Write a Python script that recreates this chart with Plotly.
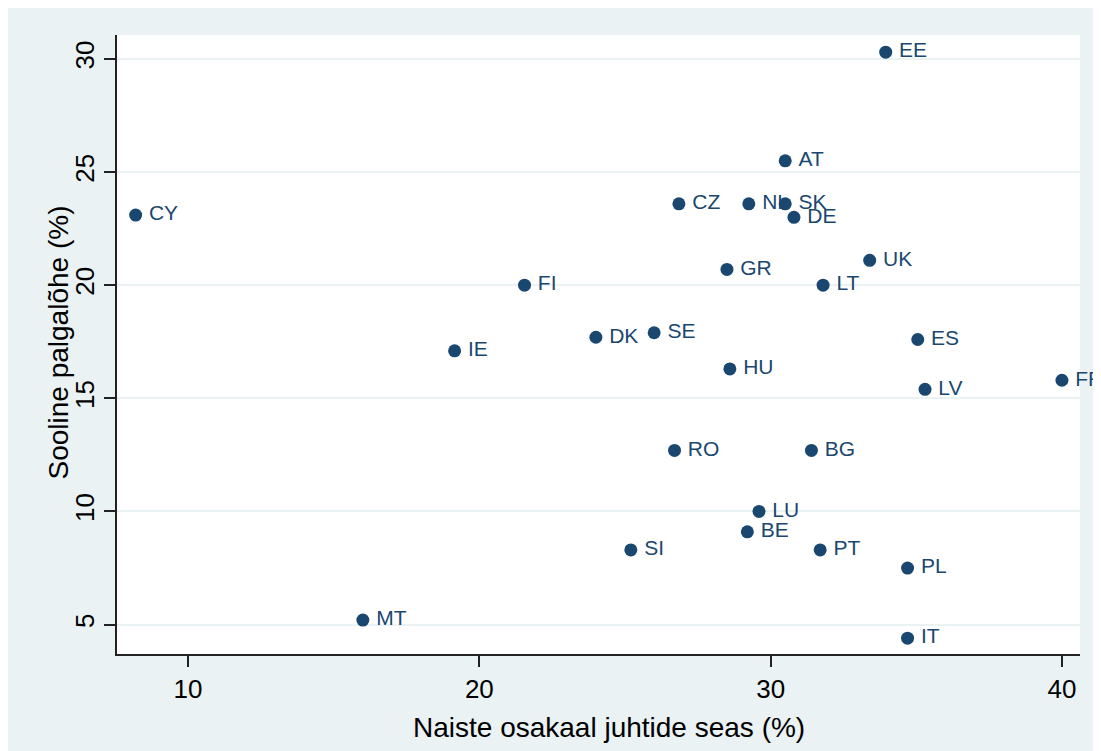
import plotly.graph_objects as go

countries = ["EE", "AT", "CZ", "NL", "SK", "DE", "CY", "UK", "GR", "FI", "LT", "DK", "SE",
             "IE", "ES", "HU", "FR", "LV", "RO", "BG", "LU", "BE", "SI", "PT", "PL", "MT", "IT"]
women_managers = [33.95, 30.5, 26.85, 29.25, 30.5, 30.8, 8.2, 33.4, 28.5, 21.55, 31.8, 24.0, 26.0,
                  19.15, 35.05, 28.6, 40.0, 35.3, 26.7, 31.4, 29.6, 29.2, 25.2, 31.7, 34.7, 16.0, 34.7]
pay_gap = [30.3, 25.5, 23.6, 23.6, 23.6, 23.0, 23.1, 21.1, 20.7, 20.0, 20.0, 17.7, 17.9,
           17.1, 17.6, 16.3, 15.8, 15.4, 12.7, 12.7, 10.0, 9.1, 8.3, 8.3, 7.5, 5.2, 4.4]

x_ticks = [10, 20, 30, 40]
y_ticks = [5, 10, 15, 20, 25, 30]

x_title = "Naiste osakaal juhtide seas (%)"
y_title = "Sooline palgalõhe (%)"

NAVY = "#1A476F"
BG = "#EAF2F3"
FONT = "Liberation Sans, Arial, sans-serif"

fig = go.Figure(go.Scatter(
    x=women_managers, y=pay_gap, text=countries,
    mode="markers+text", textposition="middle right",
    texttemplate="\u2009%{text}",
    marker=dict(size=13, color=NAVY),
    textfont=dict(family=FONT, size=21, color=NAVY),
    cliponaxis=False, hoverinfo="text",
))

fig.update_layout(
    width=1101, height=751,
    margin=dict(l=109, r=29, t=27, b=105),
    paper_bgcolor=BG, plot_bgcolor="white",
    showlegend=False,
    font=dict(family=FONT, color="black"),
    annotations=[
        dict(text=x_title, xref="paper", yref="paper", x=0.5, y=0,
             xanchor="center", yanchor="middle", xshift=10, yshift=-73,
             showarrow=False, font=dict(size=28, color="black")),
        dict(text=y_title, xref="paper", yref="paper", x=0, y=0.5,
             xanchor="center", yanchor="middle", xshift=-59, yshift=2,
             textangle=-90, showarrow=False, font=dict(size=28, color="black")),
    ],
)

fig.update_xaxes(
    range=[7.56, 40.62], tickvals=x_ticks, showgrid=False, zeroline=False,
    showline=True, linecolor="#222", linewidth=1.5,
    ticks="outside", ticklen=11, tickwidth=1.5, tickcolor="#222",
    tickfont=dict(size=26, color="black"),
)
fig.update_yaxes(
    range=[3.70, 31.06], tickvals=y_ticks, showgrid=True, gridcolor=BG, gridwidth=2,
    zeroline=False, showline=True, linecolor="#222", linewidth=1.5,
    ticks="outside", ticklen=11, tickwidth=1.5, tickcolor="#222",
    tickangle=-90, tickfont=dict(size=26, color="black"),
)

fig.write_html("out.html")
